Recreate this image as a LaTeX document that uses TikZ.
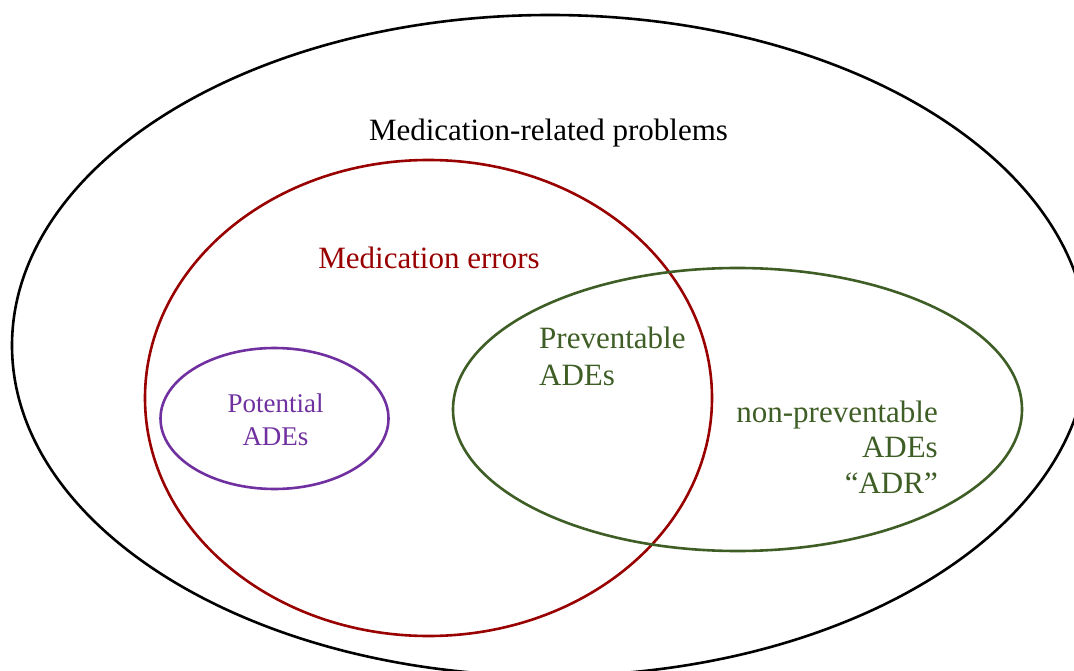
\documentclass[tikz,border=0pt]{standalone}
\usepackage{fontspec}
\setmainfont{Liberation Serif}
\newfontfamily\labelserif{Liberation Serif}
\usetikzlibrary{shapes.geometric}
\definecolor{errred}{RGB}{153,0,0}
\definecolor{adegreen}{RGB}{62,94,38}
\definecolor{potpurple}{RGB}{112,48,160}
\tikzset{
  setring/.style={ellipse, draw, line width=2.6pt, inner sep=0pt, outer sep=0pt},
  biglabel/.style={inner sep=0pt, font=\labelserif\fontsize{31}{37}\selectfont},
  smalllabel/.style={inner sep=0pt, font=\labelserif\fontsize{27}{33}\selectfont},
}
\begin{document}
\begin{tikzpicture}[x=1pt, y=-1pt]
  \useasboundingbox (0,0) rectangle (1074,671);
  \clip (0,0) rectangle (1074,671);
  \fill[white] (0,0) rectangle (1074,671);

  % sets
  \node[setring, black, minimum width=1076pt, minimum height=661pt] (mrp) at (550,345.5) {};
  \node[setring, errred, minimum width=567pt, minimum height=476pt] (me) at (428.5,398) {};
  \node[setring, adegreen, minimum width=569pt, minimum height=283pt] (ade) at (737.5,409.5) {};
  \node[setring, potpurple, minimum width=228pt, minimum height=141pt] (pot) at (274.5,418.5) {};

  % labels
  \node[biglabel, anchor=base] (mrpl) at (548.5,141) {Medication-related problems};
  \node[biglabel, anchor=base, text=errred] (mel) at (429,269) {Medication errors};

  \node[biglabel, anchor=base west, text=adegreen] (prev1) at (539,348) {Preventable};
  \node[biglabel, anchor=base west, text=adegreen] (prev2) at (539,385) {ADEs};

  \node[biglabel, anchor=base east, text=adegreen] (np1) at (938,422) {non-preventable};
  \node[biglabel, anchor=base east, text=adegreen] (np2) at (938,457) {ADEs};
  \node[biglabel, anchor=base east, text=adegreen] (np3) at (938,493) {“ADR”};

  \node[smalllabel, anchor=base, text=potpurple] (pot1) at (275.5,412) {Potential};
  \node[smalllabel, anchor=base, text=potpurple] (pot2) at (275.5,445) {ADEs};
\end{tikzpicture}
\end{document}
